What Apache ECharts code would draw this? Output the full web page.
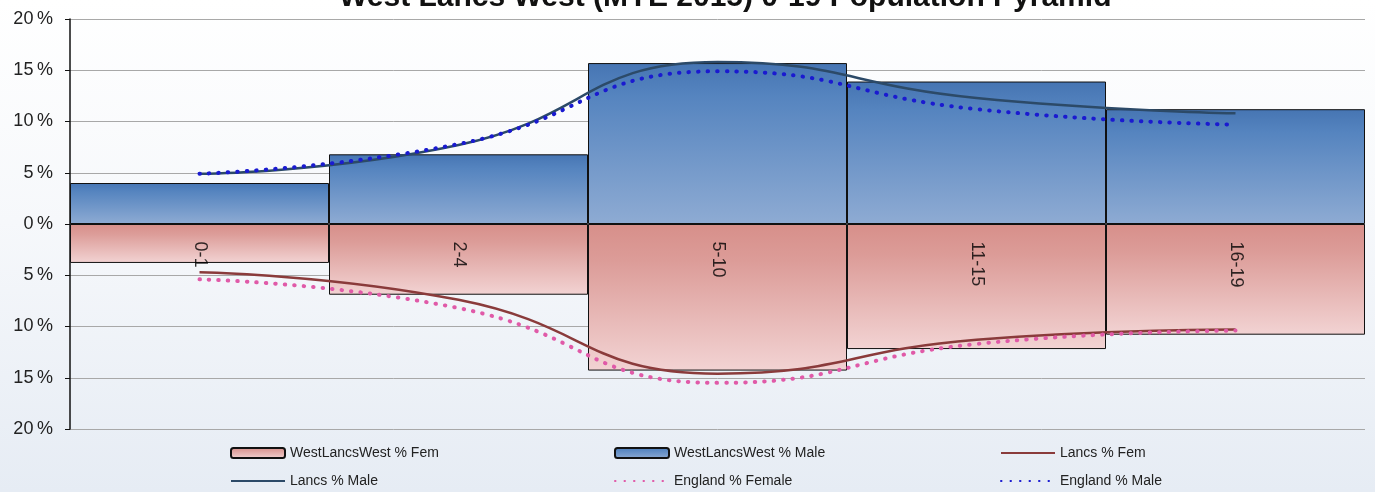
<!DOCTYPE html>
<html>
<head>
<meta charset="utf-8">
<script src="https://cdn.jsdelivr.net/npm/echarts@6/dist/echarts.min.js"></script>
<style>
html,body{margin:0;padding:0;background:#fff;}
#chart{width:1375px;height:492px;}
</style>
</head>
<body>
<div id="chart"></div>
<script>
var categories = ['0-1', '2-4', '5-10', '11-15', '16-19'];
var wlwFem = [3.8, 6.9, 14.3, 12.2, 10.8];
var wlwMale = [4.0, 6.8, 15.7, 13.9, 11.2];
var lancsFem = [4.7, 7.4, 14.6, 11.3, 10.3];
var lancsMale = [4.9, 7.7, 15.8, 12.3, 10.8];
var engFem = [5.4, 8.2, 15.5, 11.7, 10.4];
var engMale = [4.9, 7.8, 14.9, 11.2, 9.7];
var yTicks = [-20, -15, -10, -5, 0, 5, 10, 15, 20];

function neg(a) { return a.map(function (v) { return -v; }); }
function grad(stops) {
  return { type: 'linear', x: 0, y: 0, x2: 0, y2: 1,
    colorStops: stops.map(function (s) { return { offset: s[0], color: s[1] }; }) };
}

var chart = echarts.init(document.getElementById('chart'));
var font = 'Liberation Sans, Arial, sans-serif';
var legendBase = { padding: 0, itemWidth: 54, itemHeight: 10, itemGap: 5,
  textStyle: { fontFamily: font, fontSize: 14, color: '#222' } };
function lg(name, left, top, isLine) {
  var item = { name: name };
  if (isLine) { item.itemStyle = { opacity: 0 }; }
  return Object.assign({}, legendBase, { data: [item], left: left, top: top });
}
var dotted = [0.5, 9];

chart.setOption({
  animation: false,
  backgroundColor: grad([[0, '#ffffff'], [0.45, '#f6f8fb'], [1, '#e6ecf4']]),
  title: {
    text: 'West Lancs West (MYE 2015) 0-19 Population Pyramid',
    left: 334, top: -22,
    textStyle: { fontFamily: font, fontSize: 30, fontWeight: 'bold', color: '#111' }
  },
  legend: [
    lg('WestLancsWest % Fem', 230, 446, false),
    lg('WestLancsWest % Male', 614, 446, false),
    lg('Lancs % Fem', 1000, 446, true),
    lg('Lancs % Male', 230, 474, true),
    lg('England % Female', 614, 474, true),
    lg('England % Male', 1000, 474, true)
  ],
  grid: { left: 70, right: 10, top: 19, bottom: 63 },
  xAxis: {
    type: 'category',
    data: categories,
    boundaryGap: true,
    axisLine: { show: false },
    axisTick: { show: false },
    axisLabel: { show: false },
    splitLine: { show: false }
  },
  yAxis: {
    type: 'value',
    min: yTicks[0], max: yTicks[yTicks.length - 1], interval: 5,
    axisLine: { show: true, lineStyle: { color: '#111', width: 1.5 } },
    axisTick: { show: true, inside: false, length: 5, lineStyle: { color: '#111' } },
    axisLabel: { margin: 17, fontFamily: font, fontSize: 18, color: '#222',
      formatter: function (v) { return Math.abs(v) + '\u2009%'; } },
    splitLine: { show: true, lineStyle: { color: '#a8a8a8', width: 1 } }
  },
  series: [
    {
      name: 'WestLancsWest % Fem', type: 'bar', stack: 'pop', barCategoryGap: '0%',
      data: neg(wlwFem),
      itemStyle: { color: grad([[0, '#d78f8a'], [0.25, '#dc9c98'], [1, '#f2d3d3']]),
        borderColor: '#111', borderWidth: 1 }
    },
    {
      name: 'WestLancsWest % Male', type: 'bar', stack: 'pop', barCategoryGap: '0%',
      data: wlwMale,
      itemStyle: { color: grad([[0, '#4675b3'], [0.2, '#5584bf'], [1, '#8eabd3']]),
        borderColor: '#111', borderWidth: 1 }
    },
    {
      name: 'Lancs % Fem', type: 'line', smooth: 0.5, symbol: 'none',
      data: neg(lancsFem), z: 5,
      itemStyle: { color: '#8a3b3b' },
      lineStyle: { color: '#8a3b3b', width: 2.5 }
    },
    {
      name: 'Lancs % Male', type: 'line', smooth: 0.5, symbol: 'none',
      data: lancsMale, z: 5,
      itemStyle: { color: '#2c4a68' },
      lineStyle: { color: '#2c4a68', width: 2.5 }
    },
    {
      name: 'England % Female', type: 'line', smooth: 0.5, symbol: 'none',
      data: neg(engFem), z: 6,
      itemStyle: { color: '#e05aa8' },
      lineStyle: { color: '#e05aa8', width: 4, type: dotted, cap: 'round' }
    },
    {
      name: 'England % Male', type: 'line', smooth: 0.5, symbol: 'none',
      data: engMale, z: 6,
      itemStyle: { color: '#1a1ad0' },
      lineStyle: { color: '#1a1ad0', width: 4, type: dotted, cap: 'round' }
    },
    {
      name: 'catLabels', type: 'scatter', silent: true, z: 7,
      data: categories.map(function () { return 0; }),
      symbol: 'circle', symbolSize: 1,
      itemStyle: { color: 'rgba(0,0,0,0)' },
      label: {
        show: true, position: 'bottom', distance: 17, rotate: -90,
        align: 'left', verticalAlign: 'middle',
        fontFamily: font, fontSize: 18, color: '#000',
        textBorderWidth: 0,
        formatter: '{b}'
      }
    }
  ]
});
</script>
</body>
</html>
